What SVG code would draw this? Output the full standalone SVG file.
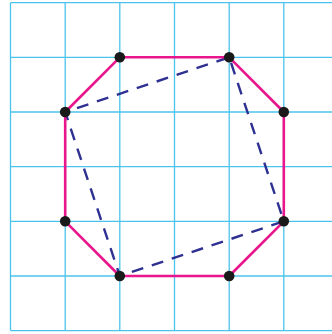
<svg xmlns="http://www.w3.org/2000/svg" width="332" height="334" viewBox="0 0 332 334">
<style>
.grid{stroke:#4cc3ec;stroke-width:1.3;fill:none}
.oct{stroke:#e8158c;stroke-width:2.6;fill:none;stroke-linejoin:round}
.dash{stroke:#2e3192;stroke-width:2.4;fill:none;stroke-dasharray:12 9;stroke-dashoffset:-6}
.dot{fill:#1a1a1a}
</style>
<rect width="332" height="334" fill="#fff"/>
<g id="grid" class="grid">
<path d="M10.5 2.7V330.6M65.2 2.7V330.6M119.8 2.7V330.6M174.5 2.7V330.6M229.2 2.7V330.6M283.8 2.7V330.6"/>
<path d="M10.5 2.7H332M10.5 57.3H332M10.5 112H332M10.5 166.7H332M10.5 221.3H332M10.5 276H332M10.5 330.6H332"/>
</g>
<g id="connectors">
<polygon class="dash" points="229.2,57.3 283.8,221.3 119.8,276 65.2,112"/>
<polygon class="oct" points="119.8,57.3 229.2,57.3 283.8,112 283.8,221.3 229.2,276 119.8,276 65.2,221.3 65.2,112"/>
</g>
<g id="points" class="dot">
<circle id="p1" cx="119.8" cy="57.3" r="5.3"/>
<circle id="p2" cx="229.2" cy="57.3" r="5.3"/>
<circle id="p3" cx="283.8" cy="112" r="5.3"/>
<circle id="p4" cx="283.8" cy="221.3" r="5.3"/>
<circle id="p5" cx="229.2" cy="276" r="5.3"/>
<circle id="p6" cx="119.8" cy="276" r="5.3"/>
<circle id="p7" cx="65.2" cy="221.3" r="5.3"/>
<circle id="p8" cx="65.2" cy="112" r="5.3"/>
</g>
</svg>
